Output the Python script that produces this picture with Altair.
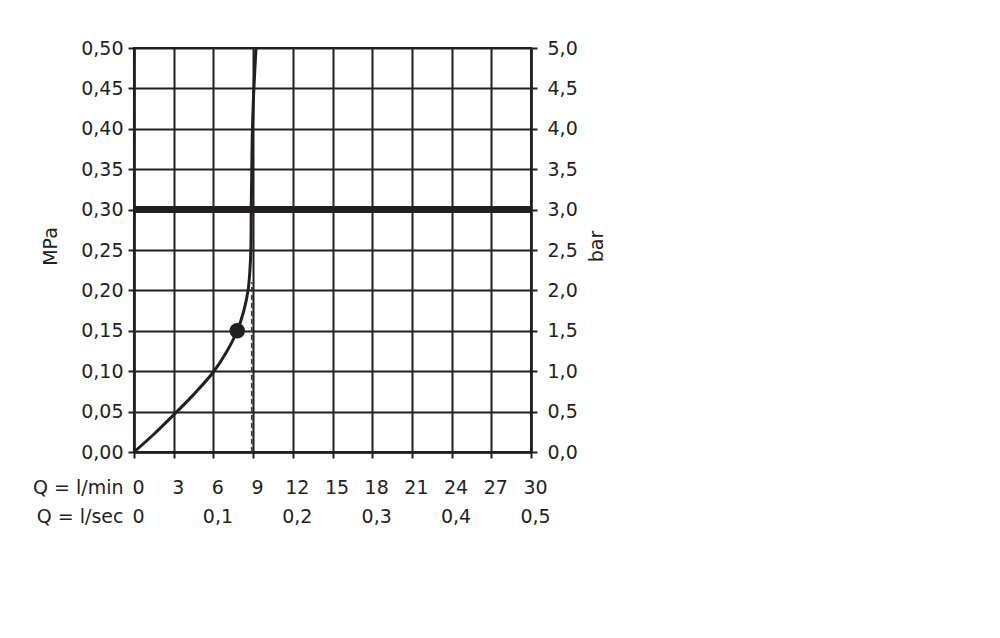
import altair as alt
import pandas as pd

# flow / pressure curve
flow_lmin = [0, 1.5, 3.0, 4.5, 6.0, 7.0, 7.8, 8.3, 8.62, 8.76, 8.83, 8.86, 8.9, 8.95, 9.06, 9.22]
pressure_mpa = [0, 0.022, 0.046, 0.071, 0.099, 0.124, 0.15, 0.175, 0.20, 0.225, 0.25, 0.30, 0.35, 0.40, 0.45, 0.50]

# marked operating point
marker_flow = [7.8]
marker_pressure = [0.15]

# dashed drop line
dash_flow = [8.9]
dash_from = [0.0]
dash_to = [0.21]

# thick limit line (bar)
limit_bar = [3.0]

# ticks and labels
lmin_ticks = [0, 3, 6, 9, 12, 15, 18, 21, 24, 27, 30]
lsec_ticks = [0, 6, 12, 18, 24, 30]
lsec_labels = ["0", "0,1", "0,2", "0,3", "0,4", "0,5"]
mpa_ticks = [0, 0.05, 0.10, 0.15, 0.20, 0.25, 0.30, 0.35, 0.40, 0.45, 0.50]
bar_ticks = [0, 0.5, 1.0, 1.5, 2.0, 2.5, 3.0, 3.5, 4.0, 4.5, 5.0]
x_title = ["Q = l/min", "Q = l/sec"]

INK = "#231f20"
FONT = "DejaVu Sans"

curve_df = pd.DataFrame({"q": flow_lmin, "p": pressure_mpa})
marker_df = pd.DataFrame({"q": marker_flow, "p": marker_pressure})
dash_df = pd.DataFrame({"q": dash_flow, "p0": dash_from, "p1": dash_to})
limit_df = pd.DataFrame({"bar": limit_bar})

# two-line x labels: l/min on top, l/sec underneath where there is one
sec_vals = "[" + ",".join(str(v) for v in lsec_ticks) + "]"
sec_labs = "[" + ",".join("'" + s + "'" for s in lsec_labels) + "]"
x_label_expr = (
    f"indexof({sec_vals}, datum.value) >= 0 ? "
    f"[format(datum.value, 'd'), {sec_labs}[indexof({sec_vals}, datum.value)]] : "
    "format(datum.value, 'd')"
)

x_scale = alt.Scale(domain=[0, 30], nice=False)
y_scale = alt.Scale(domain=[0, 0.5], nice=False)

x_axis = alt.Axis(
    values=lmin_ticks,
    labelExpr=x_label_expr,
    labelBaseline="top",
    labelLineHeight=29,
    labelPadding=20,
    labelOffset=4,
    labelFlush=False,
    labelOverlap=False,
    tickSize=6,
    grid=True,
    title=x_title,
    titleX=-11,
    titleY=26,
    titleAlign="right",
    titleBaseline="top",
    titleLineHeight=29,
)

y_axis = alt.Axis(
    values=mpa_ticks,
    labelExpr="replace(format(datum.value, '.2f'), '.', ',')",
    labelPadding=5,
    labelFlush=False,
    labelOverlap=False,
    tickSize=6,
    grid=True,
    title="MPa",
    titleAngle=270,
    titleX=-84,
    titleY=198,
    titleAlign="center",
    titleBaseline="middle",
)

bar_axis = alt.Axis(
    orient="right",
    values=bar_ticks,
    labelExpr="replace(format(datum.value, '.1f'), '.', ',')",
    labelPadding=10,
    labelFlush=False,
    labelOverlap=False,
    tickSize=6,
    grid=False,
    title="bar",
    titleAngle=270,
    titleX=65,
    titleY=198,
    titleAlign="center",
    titleBaseline="middle",
)

X = alt.X("q:Q", scale=x_scale, axis=x_axis)

# catmull-rom is parametric, so the near-vertical part bends smoothly
curve = (
    alt.Chart(curve_df)
    .mark_line(color=INK, strokeWidth=3, interpolate="catmull-rom")
    .encode(X, alt.Y("p:Q", scale=y_scale, axis=y_axis))
)

dash = (
    alt.Chart(dash_df)
    .mark_rule(color="#3a3a3a", strokeWidth=1.7, strokeDash=[5, 3])
    .encode(X, alt.Y("p0:Q", scale=y_scale, axis=y_axis), y2="p1:Q")
)

marker = (
    alt.Chart(marker_df)
    .mark_point(filled=True, color=INK, size=240, opacity=1)
    .encode(X, alt.Y("p:Q", scale=y_scale, axis=y_axis))
)

left = alt.layer(dash, curve, marker)

limit = (
    alt.Chart(limit_df)
    .mark_rule(color=INK, strokeWidth=7)
    .encode(alt.Y("bar:Q", scale=alt.Scale(domain=[0, 5], nice=False), axis=bar_axis))
)

chart = (
    alt.layer(left, limit)
    .resolve_scale(y="independent")
    .properties(
        width=397,
        height=404,
        background="white",
        autosize=alt.AutoSizeParams(type="none"),
        padding={"left": 126, "top": 40, "right": 110, "bottom": 100},
    )
    .configure_axis(
        labelFont=FONT,
        labelFontSize=19,
        labelColor=INK,
        titleFont=FONT,
        titleFontSize=19,
        titleFontWeight="normal",
        titleColor=INK,
        domainColor=INK,
        domainWidth=2.5,
        tickColor=INK,
        tickWidth=2,
        gridColor=INK,
        gridWidth=2,
        gridOpacity=1,
    )
    .configure_view(stroke=INK, strokeWidth=2)
)

chart.save("out.html", embed_options={"renderer": "svg", "actions": False})
